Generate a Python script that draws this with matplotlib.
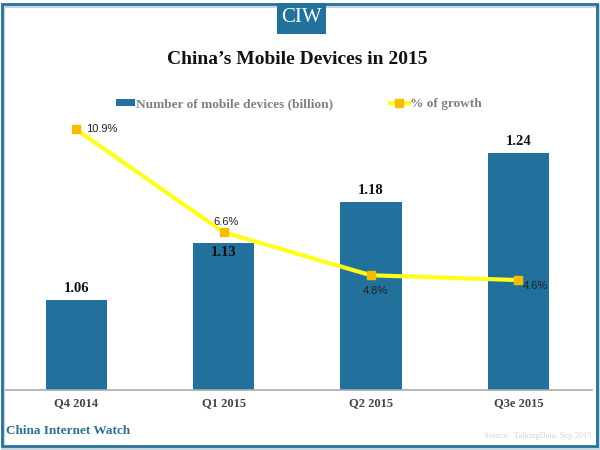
import matplotlib

matplotlib.use("Agg")
import matplotlib.patches as mpatches
import matplotlib.pyplot as plt
import numpy as np

quarters = ["Q4 2014", "Q1 2015", "Q2 2015", "Q3e 2015"]
devices = [1.06, 1.13, 1.18, 1.24]
growth = [10.9, 6.6, 4.8, 4.6]
growth_labels = ["10.9%", "6.6%", "4.8%", "4.6%"]

BLUE = "#21719c"
YELLOW = "#ffff1a"
W, H = 600, 450

plt.rcParams["font.family"] = ["Liberation Serif", "DejaVu Serif"]


def main() -> None:
    fig = plt.figure(figsize=(W / 100, H / 100), dpi=100)

    # outer frame with soft shadow, logo tab
    fig.add_artist(mpatches.Rectangle((3 / W, 1 - 448 / H), 595 / W, 442 / H, transform=fig.transFigure,
                                      fill=False, ec="#c5d6e0", lw=3))
    fig.add_artist(mpatches.Rectangle((2 / W, 1 - 445.5 / H), 595 / W, 441.5 / H, transform=fig.transFigure,
                                      fill=False, ec="#2a7398", lw=2))
    fig.add_artist(mpatches.Rectangle((277 / W, 1 - 34 / H), 49 / W, 31 / H, transform=fig.transFigure,
                                      fc=BLUE, ec="none"))
    fig.text(301 / W, 1 - 18 / H, "CIW", color="white", fontsize=15, ha="center", va="center")
    fig.text(297 / W, 1 - 59.5 / H, "China’s Mobile Devices in 2015", fontsize=14, fontweight="bold",
             ha="center", va="center", color="#111111")

    left, right, bottom, top = 2.5, 592, 390, 100
    ax = fig.add_axes([left / W, 1 - bottom / H, (right - left) / W, (bottom - top) / H])
    ax2 = ax.twinx()

    x = np.arange(len(quarters))
    bars = ax.bar(x, devices, width=0.415, color=BLUE, label="Number of mobile devices (billion)")
    ax.set_xlim(-0.5, 3.5)
    ax.set_ylim(0.95, 0.95 + (bottom - top) / 816)
    ax.set_xticks(x, quarters)
    ax.set_yticks([])
    ax.tick_params(axis="x", length=0, pad=5, labelsize=9, colors="#444444")
    for lab in ax.get_xticklabels():
        lab.set_fontweight("bold")
    for side in ["top", "left", "right"]:
        ax.spines[side].set_visible(False)
    ax.spines["bottom"].set_color("#aaaaaa")
    ax.spines["bottom"].set_linewidth(1.2)

    for i, v in enumerate(devices):
        if i == 1:
            ax.text(i, v - 0.004, f"{v:.2f}", ha="center", va="top", fontsize=10.5, fontweight="bold", color="#111111")
        else:
            ax.text(i, v + 0.006, f"{v:.2f}", ha="center", va="bottom", fontsize=10.5, fontweight="bold", color="#111111")

    line, = ax2.plot(x, growth, color=YELLOW, lw=3, marker="s", ms=5.5, mfc="#f5bc00", mec="#f5bc00",
                     label="% of growth", solid_joinstyle="round")
    ax2.set_ylim(0, (bottom - top) / 23.9)
    ax2.set_yticks([])
    for side in ["top", "left", "right", "bottom"]:
        ax2.spines[side].set_visible(False)

    offsets = [(10, 0, "left"), (2, 10, "center"), (4, -16, "center"), (4, -6, "left")]
    for i, (dx, dy, ha) in enumerate(offsets):
        ax2.annotate(growth_labels[i], (x[i], growth[i]), xytext=(dx, dy), textcoords="offset pixels",
                     ha=ha, va="center", fontsize=8, family=["Liberation Sans", "DejaVu Sans"], color="#222222")

    leg = fig.legend(handles=[bars, line], loc="center", bbox_to_anchor=(299 / W, 1 - 104 / H), ncol=2, frameon=False,
                     columnspacing=4.25, handlelength=1.4, handleheight=0.4, handletextpad=0.1, labelcolor="#808080",
                     prop={"weight": "bold", "size": 9.6})
    leg.set_zorder(5)

    fig.text(6 / W, 1 - 431 / H, "China Internet Watch", color="#2f6f8f", fontsize=9.5, fontweight="bold",
             ha="left", va="center")
    fig.text(591 / W, 1 - 436 / H, "Source:  TalkingData, Sep 2015", color="#cfd4d8", fontsize=6,
             ha="right", va="center")

    fig.savefig("out.png", dpi=100)


if __name__ == "__main__":
    main()
